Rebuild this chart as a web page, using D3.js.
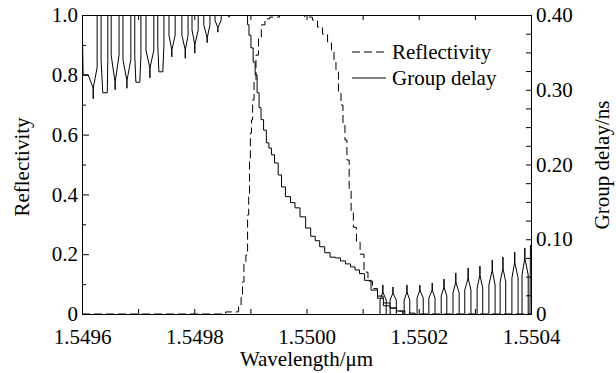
<!DOCTYPE html>
<html>
<head>
<meta charset="utf-8">
<script src="https://cdn.jsdelivr.net/npm/d3@7"></script>
<style>
  body { margin: 0; background: #fff; }
</style>
</head>
<body>
<div id="chart"></div>
<script>
// tick values
const wavelengthTicks = [1.5496, 1.5497, 1.5498, 1.5499, 1.5500, 1.5501, 1.5502, 1.5503, 1.5504];
const reflectivityMajor = [0, 0.2, 0.4, 0.6, 0.8, 1.0];
const reflectivityMinor = [0.1, 0.3, 0.5, 0.7, 0.9];
const delayTicks = [0, 0.025, 0.05, 0.075, 0.10, 0.125, 0.15, 0.175, 0.20, 0.225, 0.25, 0.275, 0.30, 0.325, 0.35, 0.375, 0.40];
const delayLabels = { 0: "0", 0.1: "0.10", 0.2: "0.20", 0.3: "0.30", 0.4: "0.40" };

// reflectivity (dashed), [wavelength um, R]
const reflectivity = [
  [1.5496, 0], [1.549855, 0], [1.549857, 0.007], [1.549876, 0.007], [1.549882, 0.03],
  [1.549885, 0.064], [1.549887, 0.107], [1.549890, 0.174], [1.549894, 0.197], [1.549896, 0.331],
  [1.549898, 0.398], [1.549899, 0.515], [1.549901, 0.605], [1.549903, 0.649], [1.549905, 0.716],
  [1.549908, 0.783], [1.549912, 0.866], [1.549917, 0.923], [1.549922, 0.967], [1.549930, 0.987],
  [1.549939, 0.993], [1.549965, 1.0], [1.549988, 1.0], [1.550006, 0.993], [1.550015, 0.983],
  [1.550024, 0.96], [1.550033, 0.936], [1.550042, 0.91], [1.550047, 0.883], [1.550051, 0.849],
  [1.550054, 0.809], [1.550060, 0.739], [1.550063, 0.699], [1.550067, 0.632], [1.550070, 0.582],
  [1.550074, 0.515], [1.550078, 0.42], [1.550081, 0.34], [1.550086, 0.29], [1.550092, 0.24],
  [1.550099, 0.2], [1.550106, 0.14], [1.550113, 0.11], [1.550122, 0.085], [1.550131, 0.06],
  [1.550142, 0.037], [1.550154, 0.02], [1.550167, 0.01], [1.550184, 0.003], [1.550202, 0], [1.5504, 0]
];

// group delay ripple below the band, [wavelength um, ns]
const delayLeft = [
  [1.549600, 0.45], [1.549601, 0.363], [1.549602, 0.320], [1.549611, 0.320], [1.549620, 0.302], [1.549620, 0.288], [1.549620, 0.302], [1.549627, 0.330], [1.549627, 0.45],
  [1.549634, 0.45], [1.549634, 0.340], [1.549637, 0.296], [1.549645, 0.296], [1.549646, 0.340], [1.549646, 0.45],
  [1.549652, 0.45], [1.549652, 0.346], [1.549659, 0.310], [1.549659, 0.300], [1.549659, 0.310], [1.549666, 0.346], [1.549666, 0.45],
  [1.549673, 0.45], [1.549673, 0.340], [1.549680, 0.312], [1.549680, 0.302], [1.549680, 0.312], [1.549687, 0.340], [1.549687, 0.45],
  [1.549694, 0.45], [1.549694, 0.346], [1.549696, 0.310], [1.549703, 0.310], [1.549705, 0.346], [1.549705, 0.45],
  [1.549714, 0.45], [1.549714, 0.353], [1.549721, 0.329], [1.549721, 0.316], [1.549721, 0.329], [1.549728, 0.353], [1.549728, 0.45],
  [1.549735, 0.45], [1.549735, 0.360], [1.549737, 0.324], [1.549744, 0.324], [1.549746, 0.360], [1.549746, 0.45],
  [1.549755, 0.45], [1.549755, 0.373], [1.549760, 0.353], [1.549760, 0.344], [1.549760, 0.353], [1.549766, 0.373], [1.549766, 0.45],
  [1.549778, 0.45], [1.549778, 0.373], [1.549784, 0.353], [1.549784, 0.342], [1.549784, 0.353], [1.549789, 0.373], [1.549789, 0.45],
  [1.549796, 0.45], [1.549796, 0.380], [1.549801, 0.360], [1.549801, 0.349], [1.549801, 0.360], [1.549807, 0.380], [1.549807, 0.45],
  [1.549817, 0.45], [1.549817, 0.387], [1.549823, 0.369], [1.549823, 0.363], [1.549823, 0.369], [1.549828, 0.387], [1.549828, 0.45],
  [1.549837, 0.45], [1.549837, 0.393], [1.549842, 0.383], [1.549842, 0.377], [1.549842, 0.383], [1.549848, 0.393], [1.549848, 0.45],
  [1.549858, 0.45], [1.549862, 0.397], [1.549866, 0.45]
];

// group delay inside the band
const delayMain = [
  [1.549892, 0.45], [1.549894, 0.400], [1.549896, 0.387], [1.549899, 0.373], [1.549903, 0.356],
  [1.549907, 0.337], [1.549910, 0.320], [1.549914, 0.296], [1.549917, 0.276], [1.549921, 0.260],
  [1.549926, 0.246], [1.549931, 0.229], [1.549935, 0.222], [1.549940, 0.213], [1.549946, 0.202],
  [1.549953, 0.186], [1.549958, 0.170], [1.549967, 0.157], [1.549976, 0.149], [1.549983, 0.142],
  [1.549994, 0.130], [1.550003, 0.115], [1.550012, 0.104], [1.550019, 0.098], [1.550028, 0.090],
  [1.550037, 0.082], [1.550047, 0.076], [1.550056, 0.075], [1.550065, 0.071], [1.550074, 0.067],
  [1.550083, 0.063], [1.550090, 0.059], [1.550099, 0.054], [1.550108, 0.045], [1.550122, 0.032],
  [1.550131, 0.021], [1.550143, 0.011], [1.550154, 0.008], [1.550167, 0.004], [1.550176, 0]
];

// group delay ripple above the band
const delayRight = [
  [1.550131, -0.02], [1.550131, 0.0187], [1.550136, 0.0294], [1.550136, 0.0388], [1.550136, 0.0294], [1.550142, 0.0187], [1.550142, -0.02],
  [1.550149, -0.02], [1.550149, 0.0187], [1.550154, 0.0281], [1.550154, 0.0361], [1.550154, 0.0281], [1.550160, 0.0187], [1.550160, -0.02],
  [1.550174, -0.02], [1.550174, 0.0187], [1.550179, 0.0294], [1.550179, 0.0388], [1.550179, 0.0294], [1.550184, 0.0187], [1.550184, -0.02],
  [1.550197, -0.02], [1.550197, 0.0214], [1.550202, 0.0321], [1.550202, 0.0388], [1.550202, 0.0321], [1.550208, 0.0214], [1.550208, -0.02],
  [1.550218, -0.02], [1.550218, 0.0214], [1.550224, 0.0321], [1.550224, 0.0415], [1.550224, 0.0321], [1.550229, 0.0214], [1.550229, -0.02],
  [1.550240, -0.02], [1.550240, 0.0241], [1.550245, 0.0361], [1.550245, 0.0468], [1.550245, 0.0361], [1.550250, 0.0241], [1.550250, -0.02],
  [1.550261, -0.02], [1.550261, 0.0281], [1.550266, 0.0428], [1.550266, 0.0549], [1.550266, 0.0428], [1.550272, 0.0281], [1.550272, -0.02],
  [1.550282, -0.02], [1.550282, 0.0321], [1.550288, 0.0482], [1.550288, 0.0615], [1.550288, 0.0482], [1.550293, 0.0321], [1.550293, -0.02],
  [1.550304, -0.02], [1.550304, 0.0348], [1.550309, 0.0522], [1.550309, 0.0642], [1.550309, 0.0522], [1.550314, 0.0348], [1.550314, -0.02],
  [1.550325, -0.02], [1.550325, 0.0388], [1.550331, 0.0589], [1.550331, 0.0722], [1.550331, 0.0589], [1.550336, 0.0388], [1.550336, -0.02],
  [1.550345, -0.02], [1.550345, 0.0428], [1.550350, 0.0615], [1.550350, 0.0763], [1.550350, 0.0615], [1.550355, 0.0428], [1.550355, -0.02],
  [1.550366, -0.02], [1.550366, 0.0482], [1.550371, 0.0696], [1.550371, 0.0829], [1.550371, 0.0696], [1.550377, 0.0482], [1.550377, -0.02],
  [1.550384, -0.02], [1.550384, 0.0522], [1.550389, 0.0749], [1.550389, 0.0883], [1.550389, 0.0749], [1.550395, 0.0522], [1.550395, -0.02],
  [1.550398, -0.02], [1.550399, 0.092], [1.550402, 0.092]
];

const width = 616, height = 373;
const margin = { top: 15, right: 85, bottom: 59, left: 82 };
const fontFamily = "Liberation Serif";
const fontSize = 21;

const svg = d3.select("#chart")
  .append("svg")
  .attr("width", width)
  .attr("height", height)
  .attr("font-family", fontFamily)
  .attr("font-size", fontSize);

// Scales
const x = d3.scaleLinear()
  .domain([1.5496, 1.5504])
  .range([margin.left, width - margin.right]);

const yR = d3.scaleLinear()
  .domain([0, 1])
  .range([height - margin.bottom, margin.top]);

const yG = d3.scaleLinear()
  .domain([0, 0.4])
  .range([height - margin.bottom, margin.top]);

svg.append("clipPath")
  .attr("id", "plot-clip")
  .append("rect")
  .attr("x", margin.left)
  .attr("y", margin.top)
  .attr("width", width - margin.left - margin.right)
  .attr("height", height - margin.top - margin.bottom);

// Curves
const plot = svg.append("g").attr("clip-path", "url(#plot-clip)");

const reflLine = d3.line()
  .x(d => x(d[0]))
  .y(d => yR(d[1]))
  .curve(d3.curveStep);

const delayLine = d3.line()
  .x(d => x(d[0]))
  .y(d => yG(d[1]));

plot.append("path")
  .datum(reflectivity)
  .attr("d", reflLine)
  .attr("fill", "none")
  .attr("stroke", "#000")
  .attr("stroke-width", 1)
  .attr("stroke-dasharray", "8,4");

[delayLeft, delayRight].forEach(series => {
  plot.append("path")
    .datum(series)
    .attr("d", delayLine)
    .attr("fill", "none")
    .attr("stroke", "#000")
    .attr("stroke-width", 1);
});

plot.append("path")
  .datum(delayMain)
  .attr("d", delayLine.curve(d3.curveStep))
  .attr("fill", "none")
  .attr("stroke", "#000")
  .attr("stroke-width", 1);

// Axes
const fmtX = (d, i) => i % 2 === 0 ? d.toFixed(4) : "";

const axes = [];

axes.push(svg.append("g")
  .attr("transform", "translate(0," + (height - margin.bottom) + ")")
  .call(d3.axisBottom(x).tickValues(wavelengthTicks).tickSize(-5).tickSizeOuter(0).tickPadding(15).tickFormat(fmtX)));

axes.push(svg.append("g")
  .attr("transform", "translate(0," + margin.top + ")")
  .call(d3.axisTop(x).tickValues(wavelengthTicks).tickSize(-5).tickSizeOuter(0).tickFormat("")));

axes.push(svg.append("g")
  .attr("transform", "translate(" + margin.left + ",0)")
  .call(d3.axisLeft(yR).tickValues(reflectivityMajor).tickSize(-7).tickSizeOuter(0).tickPadding(4)
    .tickFormat(d => d === 0 ? "0" : d.toFixed(1))));

axes.push(svg.append("g")
  .attr("transform", "translate(" + margin.left + ",0)")
  .call(d3.axisLeft(yR).tickValues(reflectivityMinor).tickSize(-4).tickSizeOuter(0).tickFormat("")));

axes.push(svg.append("g")
  .attr("transform", "translate(" + (width - margin.right) + ",0)")
  .call(d3.axisRight(yG).tickValues(delayTicks).tickSize(-5).tickSizeOuter(0).tickPadding(5)
    .tickFormat(d => delayLabels[d] ?? "")));

// drop the axis default sans-serif so the svg font applies
axes.forEach(g => g.attr("font-family", null).attr("font-size", null));

svg.selectAll(".domain, .tick line").attr("stroke", "#000");

// Axis titles
svg.append("text")
  .attr("x", (margin.left + width - margin.right) / 2)
  .attr("y", 366)
  .attr("text-anchor", "middle")
  .text("Wavelength/μm");

svg.append("text")
  .attr("transform", "translate(29,167)rotate(-90)")
  .attr("text-anchor", "middle")
  .text("Reflectivity");

svg.append("text")
  .attr("transform", "translate(609,165)rotate(-90)")
  .attr("text-anchor", "middle")
  .text("Group delay/ns");

// Legend
const legend = [
  { label: "Reflectivity", dash: "8,4", y: 52 },
  { label: "Group delay", dash: null, y: 78 }
];
legend.forEach(l => {
  svg.append("line")
    .attr("x1", 352).attr("x2", 386)
    .attr("y1", l.y).attr("y2", l.y)
    .attr("stroke", "#000")
    .attr("stroke-dasharray", l.dash);
  svg.append("text")
    .attr("x", 392)
    .attr("y", l.y)
    .attr("dy", "0.35em")
    .text(l.label);
});

svg.selectAll("text").attr("fill", "#000");
</script>
</body>
</html>
